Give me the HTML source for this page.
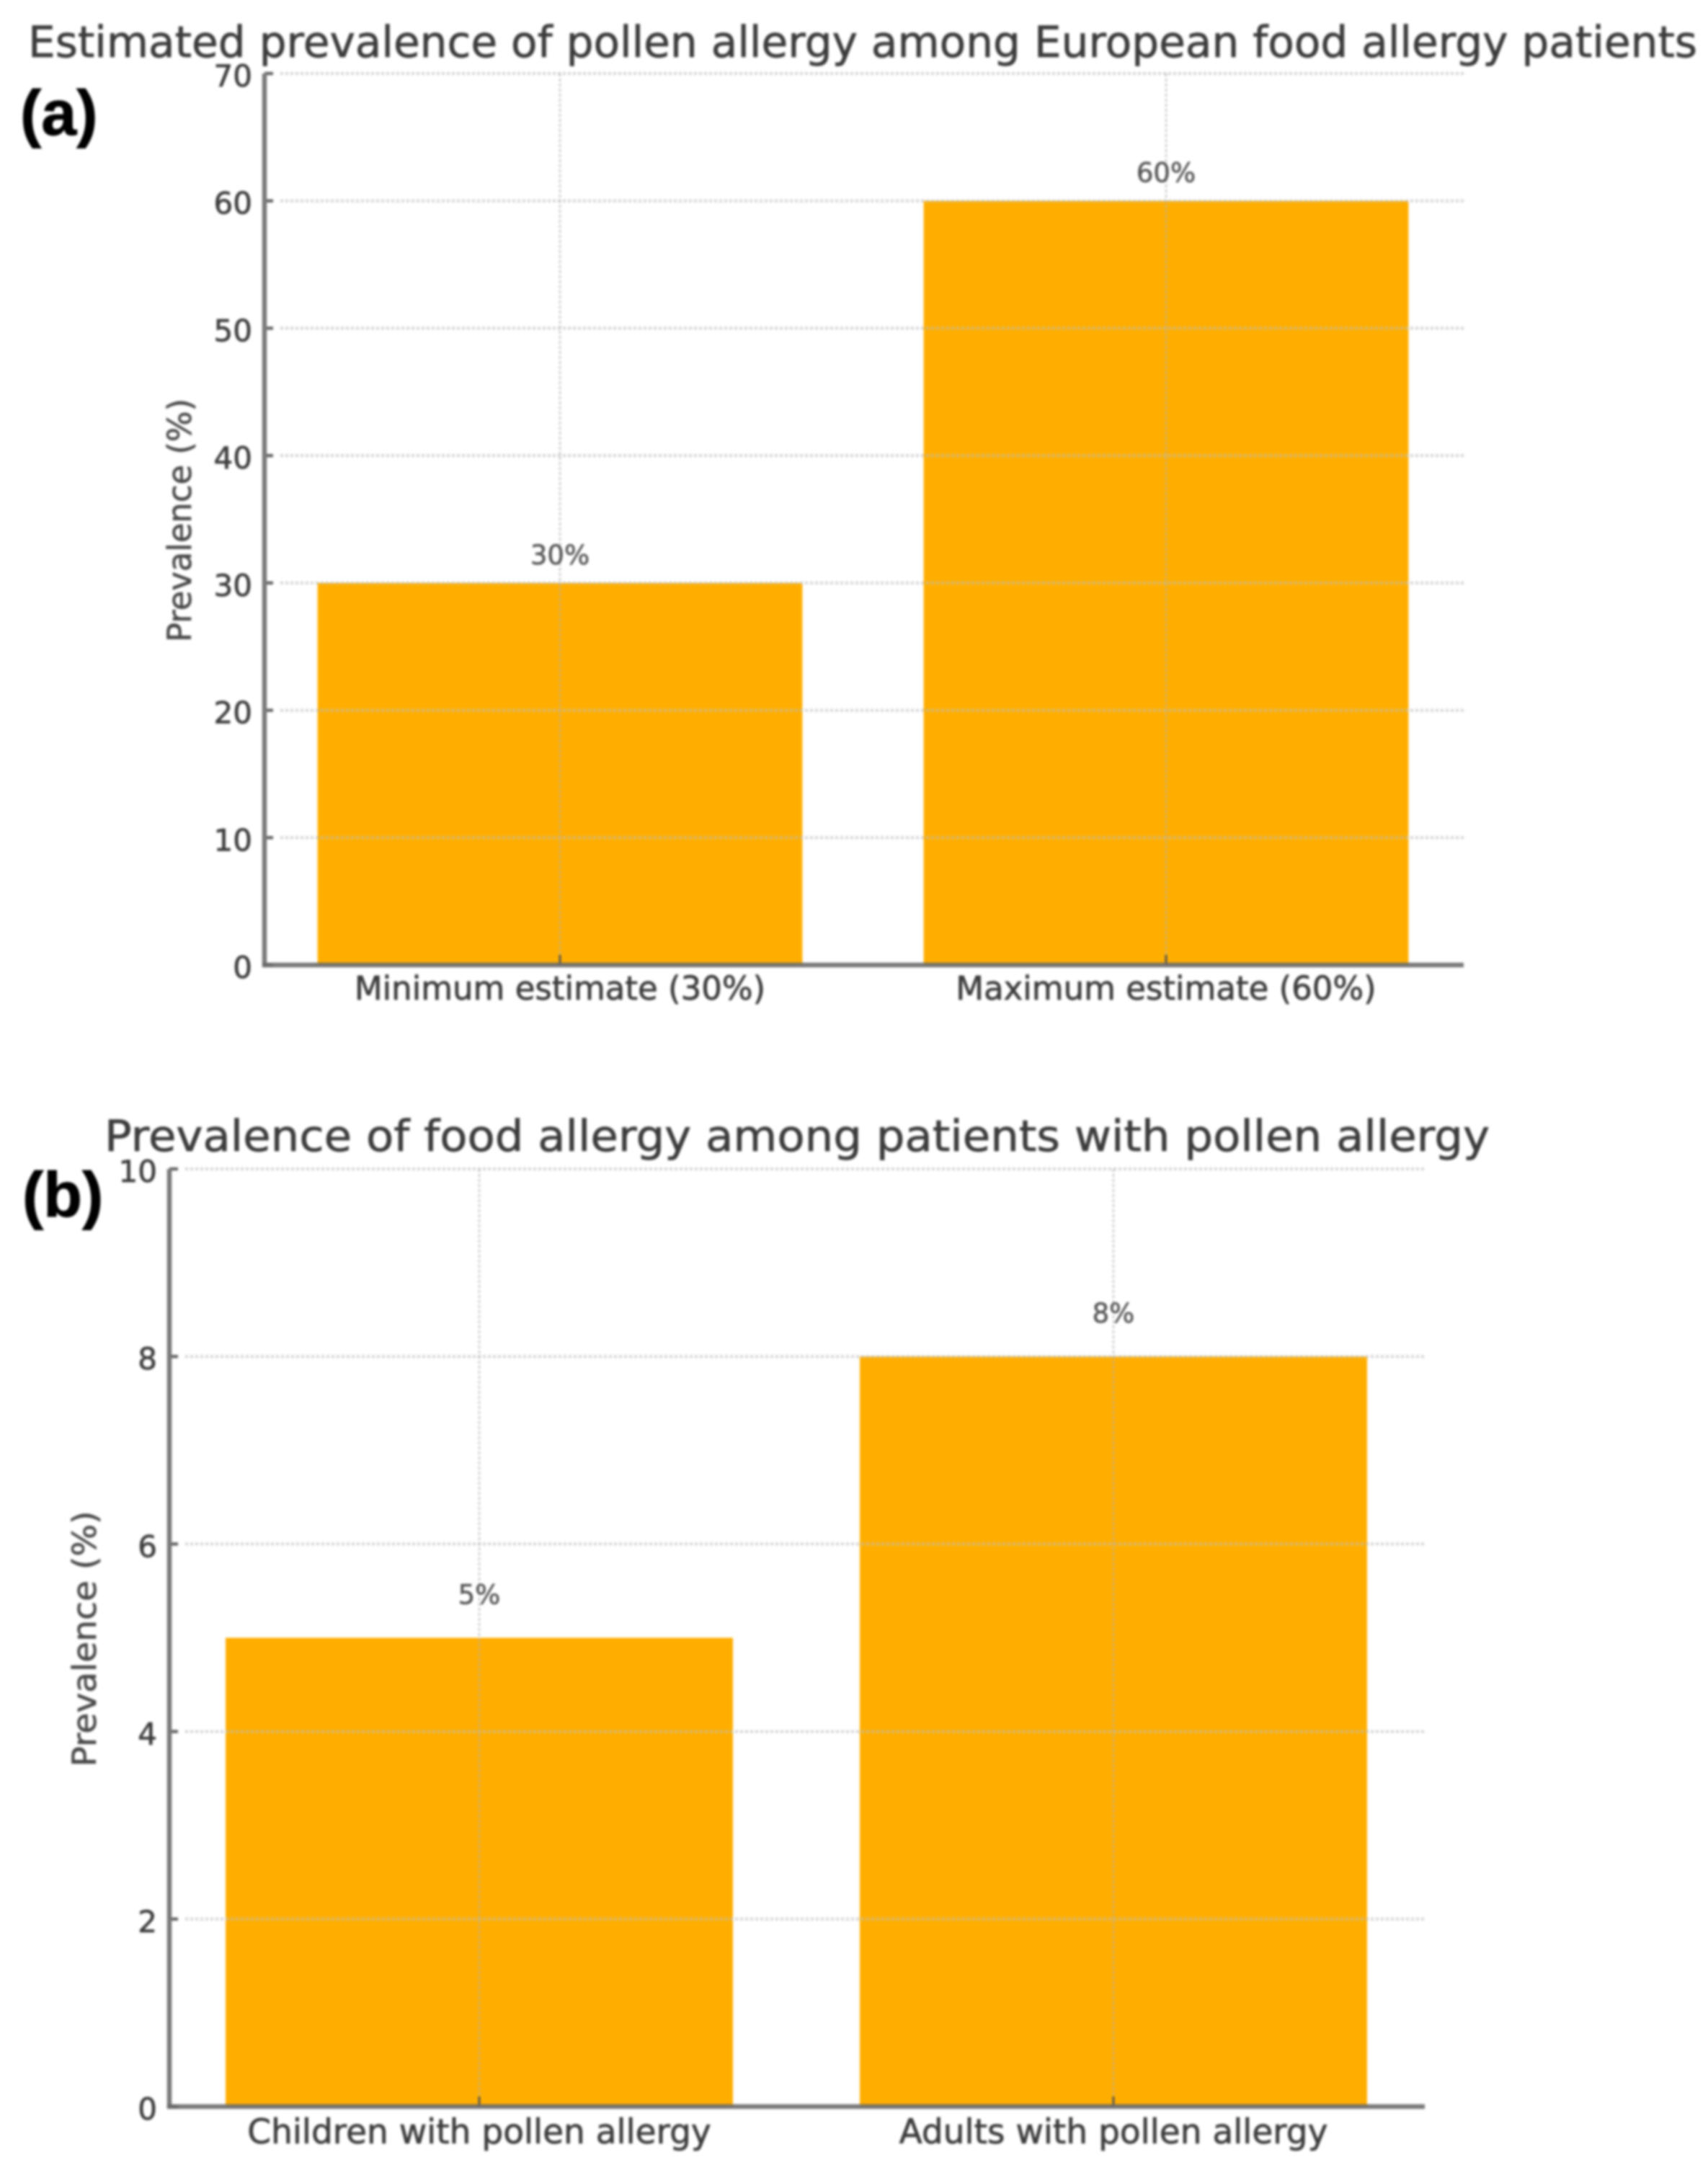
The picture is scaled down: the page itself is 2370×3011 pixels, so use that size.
<!DOCTYPE html>
<html lang="en">
<head>
<meta charset="utf-8">
<title>Prevalence of pollen and food allergy</title>
<style>
html,body{margin:0;padding:0;background:#fff;width:2370px;height:3011px;overflow:hidden}
#figure{display:block;filter:blur(1.5px)}
text{font-family:"DejaVu Sans","Liberation Sans",sans-serif}
.title{font-size:60px;fill:#3c3c3c;stroke:#3c3c3c;stroke-width:.7px}
.panel-letter{font-family:"Liberation Sans",sans-serif;font-weight:bold;font-size:88px;fill:#000;stroke:#000;stroke-width:1px}
.axis-title{font-size:45px;fill:#484848;stroke:#484848;stroke-width:.6px}
.y-tick-label{font-size:42px;fill:#3c3c3c;stroke:#3c3c3c;stroke-width:.7px}
.x-tick-label{fill:#3c3c3c;stroke:#3c3c3c;stroke-width:.7px}
.value-label{font-size:37px;fill:#555;stroke:#555;stroke-width:.6px}
</style>
</head>
<body>
<svg id="figure" xmlns="http://www.w3.org/2000/svg" width="2370" height="3011" viewBox="0 0 2370 3011">
  <rect width="2370" height="3011" fill="#ffffff"/>
  <g id="panel-a">
    <text class="title" x="39" y="79" textLength="2316" lengthAdjust="spacingAndGlyphs">Estimated prevalence of pollen allergy among European food allergy patients</text>
    <text class="panel-letter" x="28" y="187">(a)</text>
    <text class="axis-title" transform="translate(265 722) rotate(-90)" text-anchor="middle" textLength="338" lengthAdjust="spacingAndGlyphs">Prevalence (%)</text>
  </g>
  <g id="panel-b">
    <text class="title" x="145" y="1597" textLength="1922" lengthAdjust="spacingAndGlyphs">Prevalence of food allergy among patients with pollen allergy</text>
    <text class="panel-letter" x="31" y="1688">(b)</text>
    <text class="axis-title" transform="translate(133 2274) rotate(-90)" text-anchor="middle" textLength="355" lengthAdjust="spacingAndGlyphs">Prevalence (%)</text>
  </g>
</svg>
<script>
var panelACategories = ["Minimum estimate (30%)", "Maximum estimate (60%)"];
var panelAValues = [30, 60];
var panelATicks = [0, 10, 20, 30, 40, 50, 60, 70];

var panelBCategories = ["Children with pollen allergy", "Adults with pollen allergy"];
var panelBValues = [5, 8];
var panelBTicks = [0, 2, 4, 6, 8, 10];

var SVG_NS = "http://www.w3.org/2000/svg";

function make(parent, tag, attrs, content) {
  var el = document.createElementNS(SVG_NS, tag);
  for (var key in attrs) {
    el.setAttribute(key, attrs[key]);
  }
  if (content !== undefined) {
    el.textContent = content;
  }
  parent.appendChild(el);
  return el;
}

function slug(text) {
  return String(text).toLowerCase().replace(/[^a-z0-9]+/g, "-").replace(/^-|-$/g, "");
}

function drawPanel(group, prefix, layout, categories, values, ticks) {
  var yMax = ticks[ticks.length - 1];
  var yOf = function (v) {
    return layout.y0 + (layout.yTop - layout.y0) * (v / yMax);
  };
  var xOf = function (i) {
    return layout.center0 + layout.step * i;
  };
  var barWidth = layout.step * 0.8;
  var el, i;

  for (i = 0; i < values.length; i++) {
    el = make(group, "rect", {
      x: xOf(i) - barWidth / 2,
      y: yOf(values[i]),
      width: barWidth,
      height: layout.y0 - yOf(values[i]),
      fill: "#ffae00"
    });
    
    
  }

  for (i = 0; i < ticks.length; i++) {
    if (ticks[i] !== 0) {
      el = make(group, "line", {
        x1: layout.axisX + 22,
        x2: layout.right,
        y1: yOf(ticks[i]),
        y2: yOf(ticks[i]),
        stroke: "#bdbdbd",
        "stroke-opacity": "0.65",
        "stroke-width": 4,
        "stroke-dasharray": "4 3"
      });
      
      
    }
    el = make(group, "line", {
      x1: layout.axisX,
      x2: layout.axisX + 12,
      y1: yOf(ticks[i]),
      y2: yOf(ticks[i]),
      stroke: "#666",
      "stroke-width": 4.5
    });
    
    
    el = make(group, "text", {
      "class": "y-tick-label",
      x: layout.axisX - 17,
      y: yOf(ticks[i]) + 18,
      "text-anchor": "end"
    }, String(ticks[i]));
    
    
  }

  for (i = 0; i < categories.length; i++) {
    el = make(group, "line", {
      x1: xOf(i),
      x2: xOf(i),
      y1: layout.yTop,
      y2: layout.y0,
      stroke: "#b0b0b0",
      "stroke-opacity": "0.6",
      "stroke-width": 3,
      "stroke-dasharray": "4 3"
    });
    
    
    el = make(group, "line", {
      x1: xOf(i),
      x2: xOf(i),
      y1: layout.y0 - 14,
      y2: layout.y0,
      stroke: "#555",
      "stroke-width": 3
    });
    
    
    el = make(group, "text", {
      "class": "x-tick-label",
      x: xOf(i),
      y: layout.y0 + layout.xLabelOffset,
      "text-anchor": "middle",
      "font-size": layout.xLabelSize
    }, categories[i]);
    
    
    el = make(group, "text", {
      "class": "value-label",
      x: xOf(i),
      y: yOf(values[i]) - layout.valueOffset,
      "text-anchor": "middle"
    }, values[i] + "%");
    
    
  }

  el = make(group, "line", {
    x1: layout.axisX,
    x2: layout.axisX,
    y1: layout.yTop,
    y2: layout.y0 + 3,
    stroke: "#7a7a7a",
    "stroke-width": 6.5
  });
  
  
  el = make(group, "line", {
    x1: layout.axisX - 3,
    x2: layout.right,
    y1: layout.y0,
    y2: layout.y0,
    stroke: "#6a6a6a",
    "stroke-opacity": "0.9",
    "stroke-width": 6.5
  });
  
  
}

drawPanel(document.getElementById("panel-a"), "panel-a",
  { axisX: 367, right: 2031, y0: 1339, yTop: 102, center0: 777, step: 841, xLabelOffset: 48, xLabelSize: 45, valueOffset: 26 },
  panelACategories, panelAValues, panelATicks);

drawPanel(document.getElementById("panel-b"), "panel-b",
  { axisX: 235, right: 1977, y0: 2923, yTop: 1622, center0: 665, step: 880, xLabelOffset: 51, xLabelSize: 47, valueOffset: 47 },
  panelBCategories, panelBValues, panelBTicks);
</script>
</body>
</html>
